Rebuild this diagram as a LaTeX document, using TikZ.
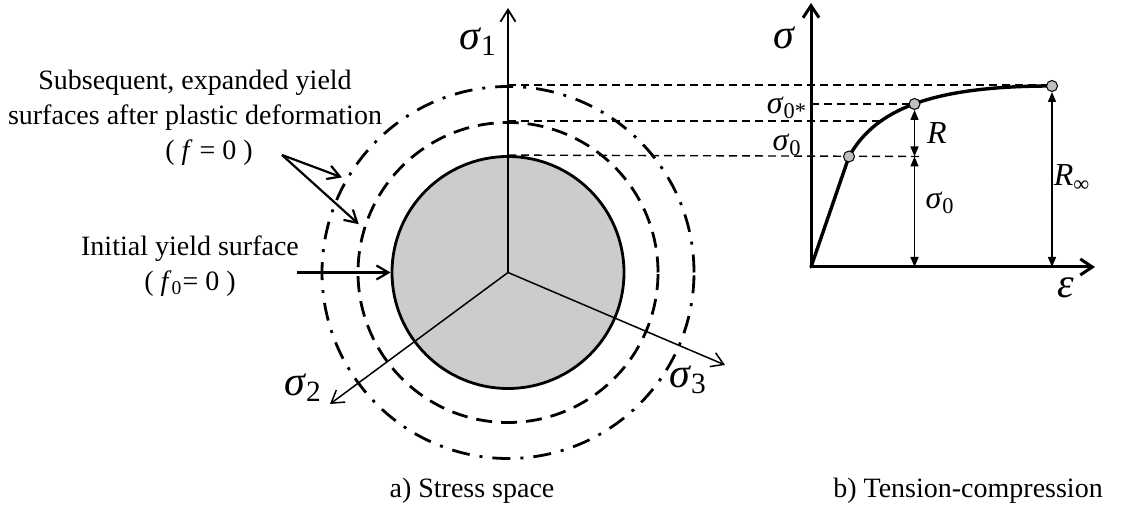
\documentclass[tikz,border=0pt]{standalone}
\usepackage{fontspec}
\setmainfont{Liberation Serif}
\usepackage{tikz}
\usetikzlibrary{arrows.meta}

\newcommand{\sgm}{\textit{σ}}

\begin{document}
\begin{tikzpicture}[x=0.5pt,y=-0.5pt,
        every node/.style={inner sep=0pt},
        txt/.style={font=\fontsize{14}{17.5}\selectfont,align=center},
        biglbl/.style={font=\fontsize{21}{24}\selectfont},
        lbl/.style={font=\fontsize{16}{19}\selectfont},
        surf/.style={circle,draw,line width=1.4pt},
        axis/.style={line width=0.9pt,-{Straight Barb[length=6pt,width=7.5pt]}},
        gaxis/.style={line width=1.5pt,-{Straight Barb[length=6pt,width=8pt]}},
        pointer/.style={line width=1.1pt,-{Straight Barb[length=6pt,width=7pt]}},
        level/.style={line width=0.7pt,dash pattern=on 4pt off 2.5pt},
        dimarr/.style={line width=0.75pt,{Triangle[length=5pt,width=4pt]}-{Triangle[length=5pt,width=4pt]}},
        curve/.style={line width=1.7pt,line cap=round,line join=round},
        marker/.style={circle,draw,fill=black!25,line width=0.5pt,minimum size=5.5pt}]
  \useasboundingbox (0,0) rectangle (1122,506);

  % a) stress space
  \coordinate (ctr) at (508,272.5);
  \node[surf,dash pattern=on 9pt off 5pt on 1.5pt off 5pt,minimum size=186pt] (surfB) at (ctr) {};
  \node[surf,dash pattern=on 8pt off 4.5pt,minimum size=150pt] (surfA) at (ctr) {};
  \node[surf,fill=black!20,minimum size=116pt] (surf0) at (ctr) {};

  \coordinate (s1) at (508,8);
  \coordinate (s2) at (330,404);
  \coordinate (s3) at (725,365);
  \draw[axis] (ctr) -- (s1);
  \draw[axis,line width=0.75pt] (ctr) -- (s2);
  \draw[axis,line width=0.75pt] (ctr) -- (s3);
  \node[biglbl] (l1) at (478,42) {\sgm\textsubscript{1}};
  \node[biglbl] (l2) at (303,388) {\sgm\textsubscript{2}};
  \node[biglbl] (l3) at (688,380) {\sgm\textsubscript{3}};

  \node[txt] (subsq) at (195,118) {Subsequent, expanded yield\\surfaces after plastic deformation\\\hspace*{14pt}( \textit{f} = 0 )};
  \node[txt] (init) at (190,266) {Initial yield surface\\( \textit{f}\textsubscript{0}= 0 )};
  \coordinate (p1) at (282,155);
  \coordinate (p2) at (297,272.5);
  \draw[pointer,shorten >=2pt] (p1) -- (surfB.150);
  \draw[pointer,shorten >=3pt] (p1) -- (surfA.163);
  \draw[pointer] (p2) -- (surf0.west);

  \node[txt,anchor=base] (capA) at (472,497) {a) Stress space};
  \node[txt,anchor=base] (capB) at (968,497) {b) Tension-compression};

  % b) tension-compression
  \coordinate (O) at (811,267);
  \coordinate (A) at (849,156.5);
  \coordinate (D) at (879,122);
  \coordinate (B) at (914.5,104);
  \coordinate (C) at (1052,86);
  \coordinate (E) at (923,156.5);
  \coordinate (ytip) at (811,3);
  \coordinate (xtip) at (1095,267);

  \draw[level] (surfB.north) -- (surfB.north -| C);
  \draw[level] (O |- B) -- (B);
  \draw[level] (surfA.north) -- (surfA.north -| D);
  \draw[level] (surf0.north) -- (E);

  \draw[gaxis] (O) -- (ytip);
  \draw[gaxis] (O) -- (xtip);
  \draw[curve] (O) -- (A) .. controls (875,110) and (930,86) .. (C);
  \node[marker] (mA) at (A) {};
  \node[marker] (mB) at (B) {};
  \node[marker] (mC) at (C) {};

  \draw[dimarr] (mB) -- (mB |- A);
  \draw[dimarr] (mB |- A) -- (mB |- O);
  \draw[dimarr] (mC) -- (mC |- O);

  \node[biglbl] (lsig) at (785,38) {\sgm};
  \node[biglbl] (leps) at (1066,288) {\textit{ε}};
  \node[lbl] (ls0s) at (787,108) {\sgm\textsubscript{0*}};
  \node[lbl] (ls0) at (787,145) {\sgm\textsubscript{0}};
  \node[lbl] (lR) at (937,133) {\textit{R}};
  \node[lbl] (ls0g) at (940,203) {\sgm\textsubscript{0}};
  \node[lbl] (lRinf) at (1072,178) {\textit{R}\textsubscript{∞}};
\end{tikzpicture}
\end{document}
